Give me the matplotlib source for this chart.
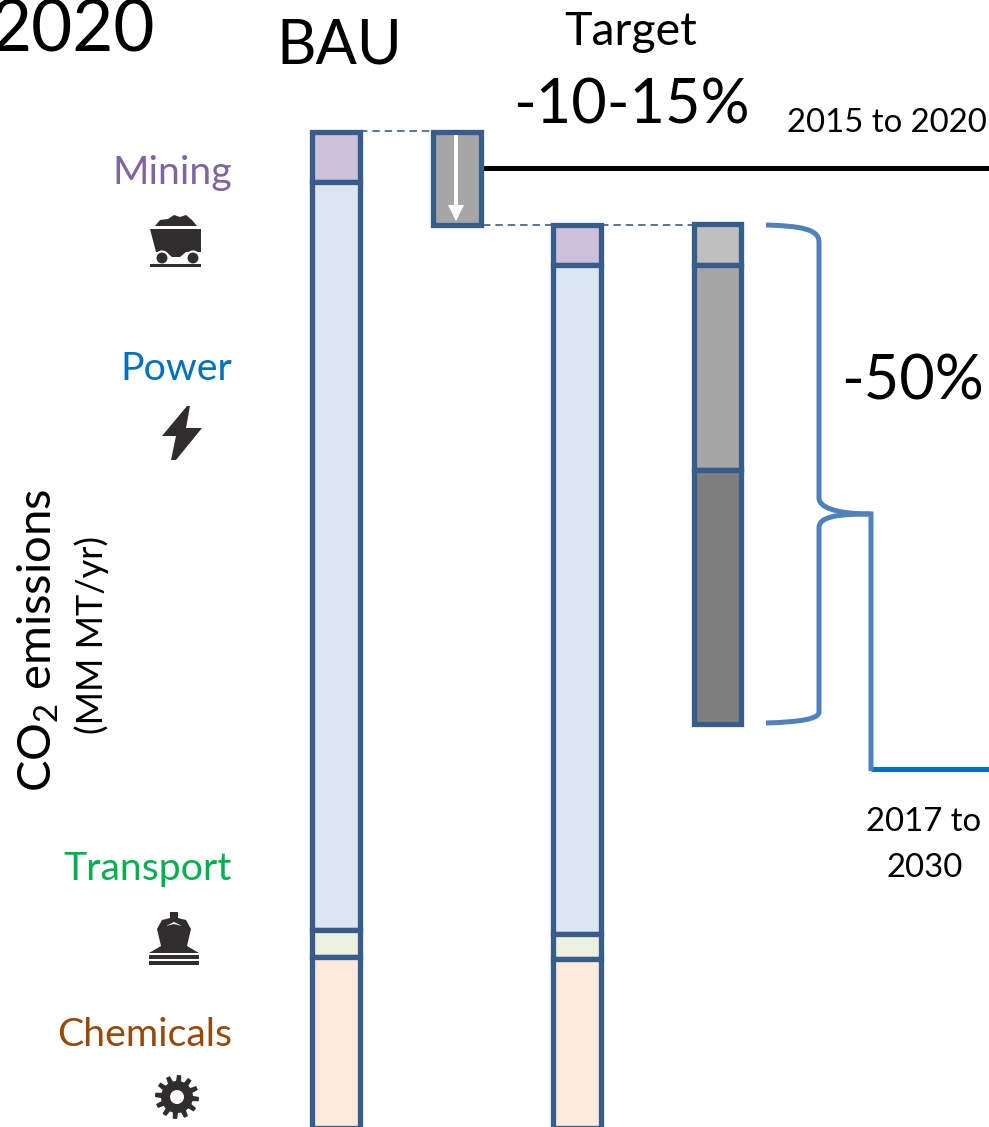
import numpy as np
import matplotlib
matplotlib.use("Agg")
import matplotlib.pyplot as plt
from matplotlib.path import Path
from matplotlib.patches import PathPatch, Polygon, Circle, Rectangle

plt.rcParams['font.family'] = ['Lato', 'DejaVu Sans']
plt.rcParams['mathtext.fontset'] = 'custom'
plt.rcParams['mathtext.rm'] = 'Lato'
plt.rcParams['mathtext.default'] = 'regular'

# Data (CO2 emissions read in picture units, measured down from the top of the stack)
sectors = ["Mining", "Power", "Transport", "Chemicals"]
bau_values = [50, 748, 27, 171]
target_values = [40, 669, 25, 169]
reduction_values = [93]
target50_values = [41, 205, 254]
sector_fills = ["#ccc1da", "#dce6f2", "#ebf1de", "#fdeada"]
grey_fills = ["#bfbfbf", "#a6a6a6", "#7f7f7f"]
sector_text = ["#8064a2", "#0070c0", "#00b050", "#984807"]
EDGE = "#385d8a"
BRACE = "#4f81bd"

fig = plt.figure(figsize=(9.89, 11.27), dpi=100)
ax = fig.add_axes([0, 0, 1, 1])
ax.set_xlim(0, 989)
ax.set_ylim(1127, 0)
ax.axis("off")
px = 72 / 100


def stack(x, top, values, fills, width=48):
    bottom = top
    for v, f in zip(values, fills):
        ax.bar(x, v, width=width, bottom=bottom, color=f, edgecolor=EDGE,
               linewidth=5.3 * px, align="center", zorder=3, clip_on=True)
        bottom += v
    return bottom


stack(335.5, 132, bau_values, sector_fills)
stack(456.5, 132, reduction_values, [grey_fills[1]])
stack(577, 225, target_values, sector_fills)
stack(717, 224, target50_values, grey_fills, width=47)

# connectors
for xs, y in [((360, 432), 131), ((483, 553), 225), ((601, 693), 225)]:
    ax.plot(xs, (y, y), color=EDGE, lw=1.5 * px * 1.1, dashes=(4.5, 3), zorder=2)

# white arrow
ax.plot((456, 456), (135, 208), color="white", lw=4 * px, zorder=5, solid_capstyle="butt")
ax.add_patch(Polygon([(448, 205), (464, 205), (456, 221)], fc="white", ec="none", zorder=5))

# timeline lines
ax.plot((483, 989), (168, 168), color="black", lw=5 * px, zorder=2, solid_capstyle="butt")
ax.plot((871, 989), (769, 769), color="#0070c0", lw=5 * px, zorder=2, solid_capstyle="butt")

# brace
verts = [(766, 225), (800, 226), (819, 229), (819, 242),
         (819, 498), (819, 507), (835, 514), (871, 514),
         (871, 771)]
codes = [Path.MOVETO, Path.CURVE4, Path.CURVE4, Path.CURVE4,
         Path.LINETO, Path.CURVE4, Path.CURVE4, Path.CURVE4,
         Path.LINETO]
ax.add_patch(PathPatch(Path(verts, codes), fc="none", ec=BRACE, lw=5 * px, zorder=2,
                       joinstyle="miter", capstyle="butt"))
verts = [(871, 514), (835, 514), (819, 517), (819, 528),
         (819, 712), (819, 719), (800, 722), (766, 723)]
codes = [Path.MOVETO, Path.CURVE4, Path.CURVE4, Path.CURVE4,
         Path.LINETO, Path.CURVE4, Path.CURVE4, Path.CURVE4]
ax.add_patch(PathPatch(Path(verts, codes), fc="none", ec=BRACE, lw=5 * px, zorder=2,
                       capstyle="butt"))

# text
ax.text(155, 51, "2020", fontsize=51, ha="right", va="baseline", color="black")
ax.text(339, 64, "BAU", fontsize=44, ha="center", va="baseline", color="black")
ax.text(630.5, 45, "Target", fontsize=33.5, ha="center", va="baseline", color="black")
ax.text(631, 124, "-10-15%", fontsize=44, ha="center", va="baseline", color="black")
ax.text(887, 132, "2015 to 2020", fontsize=23.7, ha="center", va="baseline", color="black")
ax.text(913, 399, "-50%", fontsize=44, ha="center", va="baseline", color="black")
ax.text(924, 831, "2017 to", fontsize=23.7, ha="center", va="baseline", color="black")
ax.text(925, 877, "2030", fontsize=23.7, ha="center", va="baseline", color="black")
label_y = [184, 380, 880, 1046]
for s, c, y in zip(sectors, sector_text, label_y):
    ax.text(232, y, s, fontsize=28.3, color=c, ha="right", va="baseline")
ax.text(52, 640, "CO$_2$ emissions", fontsize=34, rotation=90, ha="center", va="baseline",
        color="black", rotation_mode="anchor")
ax.text(103, 635, "(MM MT/yr)", fontsize=26, rotation=90, ha="center", va="baseline",
        color="black", rotation_mode="anchor")

# icons
ICON = "#2f2d2d"
# cart
ax.add_patch(Polygon([(155, 226), (160, 220), (168, 219), (174, 215), (180, 217), (186, 215),
                      (192, 220), (197, 226)], fc=ICON, ec="none"))
ax.add_patch(Polygon([(150, 229), (201, 229), (201, 252), (186, 252), (180, 257), (172, 257),
                      (166, 252), (156, 252)], fc=ICON, ec="none"))
ax.add_patch(Circle((162, 258), 6.5, fc=ICON, ec="white", lw=1.5))
ax.add_patch(Circle((193, 258), 6.5, fc=ICON, ec="white", lw=1.5))
ax.add_patch(Rectangle((150, 264), 51, 2.5, fc=ICON, ec="none"))
# bolt
ax.add_patch(Polygon([(187, 406), (162, 436), (176, 436), (171, 460), (176, 460), (202, 428), (186, 428),
                      (190, 406)], fc=ICON, ec="none"))
# ship
ax.add_patch(Polygon([(170, 912), (178, 912), (178, 918), (186, 920), (191, 929), (187, 946), (161, 946),
                      (157, 929), (162, 920), (170, 918)], fc=ICON, ec="none"))
ax.add_patch(Polygon([(166, 926), (174, 922), (182, 926), (174, 924)], fc="white", ec="none"))
ax.add_patch(Polygon([(149, 953), (161, 946), (187, 946), (199, 953)], fc=ICON, ec="none"))
ax.add_patch(Rectangle((149, 955), 50, 4, fc=ICON, ec="none"))
ax.add_patch(Rectangle((149, 961), 50, 4, fc=ICON, ec="none"))
# gear
t = np.linspace(0, 2 * np.pi, 97)[:-1]
r = np.where((np.arange(96) % 8) < 4, 22, 16)
ax.add_patch(Polygon(np.column_stack([177 + r * np.cos(t), 1097 + r * np.sin(t)]), fc=ICON, ec="none"))
ax.add_patch(Circle((177, 1097), 7, fc="white", ec="none"))

fig.savefig("out.png", dpi=100, facecolor="white")
